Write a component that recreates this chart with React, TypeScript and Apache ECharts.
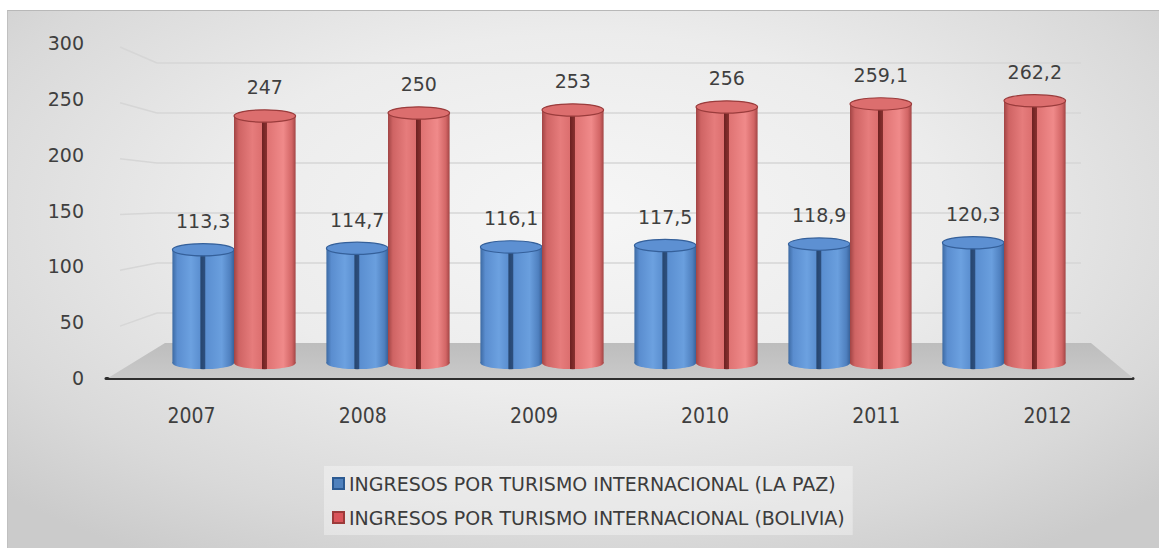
import React, { useEffect, useRef } from "react";
import * as echarts from "echarts";

const years = ["2007", "2008", "2009", "2010", "2011", "2012"];
const laPaz = [113.3, 114.7, 116.1, 117.5, 118.9, 120.3];
const bolivia = [247, 250, 253, 256, 259.1, 262.2];
const yTicks = [0, 50, 100, 150, 200, 250, 300];
const seriesNames = [
  "INGRESOS POR TURISMO INTERNACIONAL (LA PAZ)",
  "INGRESOS POR TURISMO INTERNACIONAL (BOLIVIA)",
];

const fmt = (v: number) => String(v).replace(".", ",");

const blueStops = [
  [0, "#3d6aa3"], [0.08, "#5a8dcf"], [0.3, "#6ca1e0"], [0.45, "#5b8fd0"],
  [0.46, "#27466f"], [0.53, "#2d4f7e"], [0.54, "#5a8ed0"], [0.8, "#6a9fde"],
  [0.94, "#4f80bf"], [1, "#39629a"],
];
const redStops = [
  [0, "#a14444"], [0.08, "#cf6464"], [0.3, "#e67c7c"], [0.45, "#dc6f6f"],
  [0.46, "#6e2222"], [0.53, "#86302f"], [0.54, "#df7373"], [0.8, "#f08a8a"],
  [0.94, "#d26565"], [1, "#a24545"],
];

function grad(stops: any[]) {
  return new echarts.graphic.LinearGradient(
    0, 0, 1, 0,
    stops.map((s) => ({ offset: s[0], color: s[1] }))
  );
}

function cylinder(side: number, stops: any[], cap: string, rim: string) {
  return (params: any, api: any) => {
    const i = api.value(0);
    const v = api.value(1);
    const top = api.coord([i, v]);
    const base = api.coord([i, 0]);
    const band = api.size([1, 0])[0];
    const w = band * 0.4;
    const cx = top[0] + (side * w) / 2;
    const ry = w * 0.1;
    return {
      type: "group",
      children: [
        { type: "ellipse", shape: { cx, cy: base[1], rx: w / 2, ry }, style: { fill: grad(stops) } },
        {
          type: "rect",
          shape: { x: cx - w / 2, y: top[1], width: w, height: base[1] - top[1] },
          style: { fill: grad(stops) },
        },
        {
          type: "ellipse",
          shape: { cx, cy: top[1], rx: w / 2, ry },
          style: { fill: cap, stroke: rim, lineWidth: 1.2 },
        },
        {
          type: "text",
          x: cx,
          y: top[1] - ry - 13,
          style: {
            text: fmt(v),
            fill: "#3f3f3f",
            font: "19px 'DejaVu Sans'",
            textAlign: "center",
            textVerticalAlign: "bottom",
            verticalAlign: "bottom",
          },
        },
      ],
    };
  };
}

export default function App() {
  const ref = useRef<HTMLDivElement>(null);
  useEffect(() => {
    const chart = echarts.init(ref.current!, null, { renderer: "svg" });
    const option: any = {
      animation: false,
      backgroundColor: "transparent",
      grid: [
        { left: 106, right: 26, top: 43, height: 335 },
        { left: 157, right: 78, top: 63, height: 300 },
      ],
      xAxis: [
        {
          type: "category",
          gridIndex: 0,
          data: years,
          axisTick: { show: false },
          axisLine: { lineStyle: { color: "#2e2e2e", width: 3 } },
          axisLabel: {
            margin: 27,
            color: "#3f3f3f",
            fontSize: 21,
            fontFamily: "'DejaVu Sans Condensed'",
          },
        },
        { type: "category", gridIndex: 1, data: years, show: false },
      ],
      yAxis: [
        {
          type: "value",
          gridIndex: 0,
          min: 0,
          max: 300,
          interval: 50,
          axisLine: { show: false },
          axisTick: { show: false },
          splitLine: { show: false },
          axisLabel: {
            margin: 22,
            color: "#3f3f3f",
            fontSize: 19,
            fontFamily: "'DejaVu Sans'",
          },
        },
        {
          type: "value",
          gridIndex: 1,
          min: 0,
          max: 300,
          interval: 50,
          axisLine: { show: false },
          axisTick: { show: false },
          axisLabel: { show: false },
          splitLine: { show: true, lineStyle: { color: "#d6d6d6", width: 1.5 } },
        },
      ],
      legend: {
        orient: "vertical",
        left: 324,
        top: 466,
        itemGap: 15,
        itemWidth: 11,
        itemHeight: 11,
        itemGap2: 0,
        icon: "rect",
        padding: [8, 8, 8, 8],
        backgroundColor: "rgba(255,255,255,0.35)",
        textStyle: {
          color: "#3c3c3c",
          fontSize: 19,
          fontFamily: "'DejaVu Sans'",
        },
        data: seriesNames,
      },
      series: [
        {
          name: seriesNames[0],
          type: "custom",
          xAxisIndex: 1,
          yAxisIndex: 1,
          z: 3,
          itemStyle: { color: "#4f81bd", borderColor: "#2c5a92", borderWidth: 1 },
          renderItem: cylinder(-1, blueStops, "#5d90d2", "#35609a"),
          data: laPaz.map((v, i) => [i, v]),
        },
        {
          name: seriesNames[1],
          type: "custom",
          xAxisIndex: 1,
          yAxisIndex: 1,
          z: 4,
          itemStyle: { color: "#d9545a", borderColor: "#9c3a3a", borderWidth: 1 },
          renderItem: cylinder(1, redStops, "#dc6e6e", "#9a3c3c"),
          data: bolivia.map((v, i) => [i, v]),
        },
      ],
    };
    chart.setOption(option);

    // floor and perspective connectors of gridlines, derived from the two grids
    const g: any[] = [];
    const xl = chart.convertToPixel({ xAxisIndex: 0, yAxisIndex: 0 } as any, [0, 0]);
    const b0 = chart.convertToPixel({ xAxisIndex: 1, yAxisIndex: 1 } as any, [0, 0]);
    const leftA = 106, rightA = 1159 - 26, leftB = 157, rightB = 1159 - 78;
    g.push({
      type: "polygon",
      z: 1,
      shape: {
        points: [
          [leftA + 2, xl[1]],
          [rightA, xl[1]],
          [rightB + 10, b0[1] - 20],
          [leftB + 8, b0[1] - 20],
        ],
      },
      style: {
        fill: new echarts.graphic.LinearGradient(0, 0, 0, 1, [
          { offset: 0, color: "#bdbdbd" },
          { offset: 1, color: "#c9c9c9" },
        ]),
      },
    });
    yTicks.slice(1).forEach((t) => {
      const a = chart.convertToPixel({ yAxisIndex: 0 } as any, t) as any;
      const b = chart.convertToPixel({ yAxisIndex: 1 } as any, t) as any;
      g.push({
        type: "line",
        z: 0,
        shape: { x1: leftA + 14, y1: a + 4, x2: leftB, y2: b },
        style: { stroke: "#d6d6d6", lineWidth: 1.5 },
      });
    });
    chart.setOption({ graphic: g });
    return () => chart.dispose();
  }, []);

  return (
    <div style={{ position: "fixed", left: 0, top: 0, width: 1159, height: 548, background: "#ffffff" }}>
      <div
        style={{
          position: "absolute",
          left: 7,
          top: 10,
          width: 1152,
          height: 538,
          boxSizing: "border-box",
          borderTop: "1px solid #b8b8b8",
          borderLeft: "1px solid #c0c0c0",
          background:
            "radial-gradient(ellipse 70% 75% at 50% 38%, #f6f6f6 0%, #ececec 45%, #d9d9d9 80%, #cbcbcb 100%)",
        }}
      />
      <div ref={ref} style={{ position: "absolute", left: 0, top: 0, width: 1159, height: 548 }} />
    </div>
  );
}
